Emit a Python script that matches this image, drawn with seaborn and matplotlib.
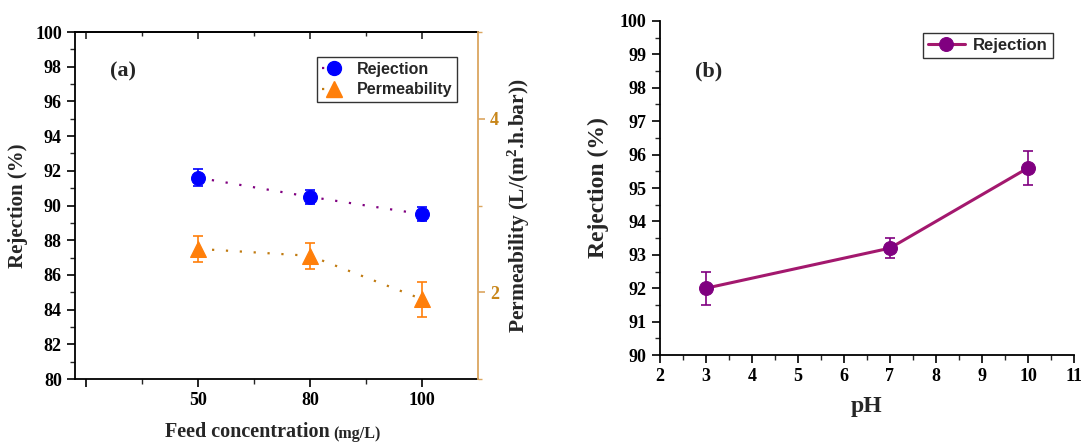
import numpy as np
import pandas as pd
import matplotlib
matplotlib.use("Agg")
import matplotlib.pyplot as plt
from matplotlib.ticker import MultipleLocator, FixedLocator
from matplotlib.lines import Line2D
import seaborn as sns

# ---- data -------------------------------------------------------------
feed_conc_labels = ["50", "80", "100"]          # mg/L
feed_positions = [1, 2, 3]
rejection_feed = [91.6, 90.5, 89.5]            # %
rejection_feed_err = [0.5, 0.4, 0.4]
permeability = [2.5, 2.42, 1.92]               # L/(m2.h.bar)
permeability_err = [0.15, 0.15, 0.2]

ph_values = [3, 7, 10]
rejection_ph = [92.0, 93.2, 95.6]              # %
rejection_ph_err = [0.5, 0.3, 0.5]

# ---- style ------------------------------------------------------------
sns.set_theme(style="ticks")
plt.rcParams["font.family"] = ["Liberation Serif", "DejaVu Serif"]
plt.rcParams["font.weight"] = "bold"
plt.rcParams["mathtext.fontset"] = "custom"
plt.rcParams["mathtext.rm"] = "Liberation Serif:bold"
plt.rcParams["mathtext.it"] = "Liberation Serif:bold"
plt.rcParams["mathtext.bf"] = "Liberation Serif:bold"

C_BLUE = "#0000FF"
C_ORANGE = "#FF7F0A"
C_PURPLE = "#800080"
C_PERM_LINE = "#C07A10"
C_AXIS2 = "#DBA660"
C_AXIS2_TXT = "#C8861A"
C_PH_LINE = "#A3186E"

fig = plt.figure(figsize=(10.81, 4.42), dpi=100)
ax1 = fig.add_axes([0.0694, 0.1425, 0.3728, 0.7851])
ax3 = fig.add_axes([0.6105, 0.1968, 0.3830, 0.7557])

dotted = (0, (1, 5.25))
DOT_LW = 1.6

# ---- panel (a): feed concentration -----------------------------------
df_a = pd.DataFrame({"pos": feed_positions,
                     "rej": rejection_feed,
                     "perm": permeability})

sns.lineplot(data=df_a, x="pos", y="rej", ax=ax1, color=C_PURPLE,
             linestyle=dotted, linewidth=DOT_LW, marker="o", markersize=10,
             markerfacecolor=C_BLUE, markeredgecolor=C_BLUE, zorder=3)
ax1.errorbar(feed_positions, rejection_feed, yerr=rejection_feed_err,
             fmt="none", ecolor=C_BLUE, elinewidth=1.2, capsize=3.5,
             capthick=1.2, zorder=2)

ax2 = ax1.twinx()
sns.lineplot(data=df_a, x="pos", y="perm", ax=ax2, color=C_PERM_LINE,
             linestyle=dotted, linewidth=DOT_LW, marker="^", markersize=11,
             markerfacecolor=C_ORANGE, markeredgecolor=C_ORANGE, zorder=3)
ax2.errorbar(feed_positions, permeability, yerr=permeability_err,
             fmt="none", ecolor=C_ORANGE, elinewidth=1.2, capsize=3.5,
             capthick=1.2, zorder=2)

ax1.set_xlim(-0.1, 3.5)
ax1.xaxis.set_major_locator(FixedLocator([0, 1, 2, 3]))
ax1.set_xticklabels([""] + feed_conc_labels)
ax1.xaxis.set_minor_locator(FixedLocator([0.5, 1.5, 2.5]))
ax1.set_ylim(80, 100)
ax1.yaxis.set_major_locator(MultipleLocator(2))
ax1.yaxis.set_minor_locator(MultipleLocator(1))

ax2.set_ylim(1, 5)
ax2.yaxis.set_major_locator(FixedLocator([2, 4]))
ax2.yaxis.set_minor_locator(FixedLocator([1, 3, 5]))

for sp in ax1.spines.values():
    sp.set_color("black")
    sp.set_linewidth(1.3)
ax1.spines["right"].set_visible(False)
for name in ["left", "top", "bottom"]:
    ax2.spines[name].set_visible(False)
ax2.spines["right"].set_color(C_AXIS2)
ax2.spines["right"].set_linewidth(1.3)

ax1.tick_params(axis="both", which="major", direction="out", length=6,
                width=1.2, labelsize=13, colors="black")
ax1.tick_params(axis="both", which="minor", direction="out", length=3.5,
                width=1.0)
ax2.tick_params(axis="y", which="major", direction="out", length=5,
                width=1.2, labelsize=13, colors=C_AXIS2, labelcolor=C_AXIS2_TXT)
ax2.tick_params(axis="y", which="minor", direction="out", length=3,
                width=1.0, colors=C_AXIS2)

# inward ticks along the top frame
top = ax1.secondary_xaxis("top")
top.xaxis.set_major_locator(FixedLocator([0, 1, 2, 3]))
top.xaxis.set_minor_locator(FixedLocator([0.5, 1.5, 2.5]))
top.tick_params(which="major", direction="in", length=5, width=1.2,
                labeltop=False)
top.tick_params(which="minor", direction="in", length=3, width=1.0)
top.spines["top"].set_linewidth(1.3)
top.set_xticklabels([])

for lab in ax1.get_xticklabels() + ax1.get_yticklabels() + ax2.get_yticklabels():
    lab.set_fontweight("bold")

ax1.set_xlabel("")
ax2.set_xlabel("")
ax1.set_ylabel("Rejection (%)", fontsize=15, fontweight="bold", labelpad=5)
fig.text(0.305, 0.0, "Feed concentration", fontsize=14.5, fontweight="bold",
         ha="right", va="bottom")
fig.text(0.308, 0.0, "(mg/L)", fontsize=11.5, fontweight="bold",
         ha="left", va="bottom")
ax2.set_ylabel("Permeability (L/(m$^{2}$.h.bar))", fontsize=15.5,
               fontweight="bold", labelpad=5)

ax1.text(0.087, 0.885, "(a)", transform=ax1.transAxes, fontsize=16,
         fontweight="bold", va="center", ha="left")

handles_a = [
    Line2D([0], [0], color=C_PURPLE, linestyle=dotted, linewidth=DOT_LW,
           marker="o", markersize=10, markerfacecolor=C_BLUE,
           markeredgecolor=C_BLUE),
    Line2D([0], [0], color=C_PERM_LINE, linestyle=dotted, linewidth=DOT_LW,
           marker="^", markersize=11, markerfacecolor=C_ORANGE,
           markeredgecolor=C_ORANGE),
]
for a in (ax1, ax2):
    lg = a.get_legend()
    if lg is not None:
        lg.remove()
leg_a = ax2.legend(handles_a, ["Rejection", "Permeability"],
                   loc="upper right", bbox_to_anchor=(0.948, 0.928),
                   borderaxespad=0, frameon=True, fancybox=False,
                   edgecolor="black", handlelength=1.5, handletextpad=0.7,
                   borderpad=0.3, labelspacing=0.35,
                   prop={"family": "Liberation Sans", "weight": "bold",
                         "size": 11.5})
leg_a.get_frame().set_linewidth(1.0)

# ---- panel (b): pH ---------------------------------------------------
df_b = pd.DataFrame({"pH": ph_values, "rej": rejection_ph})
sns.lineplot(data=df_b, x="pH", y="rej", ax=ax3, color=C_PH_LINE,
             linewidth=2.2, marker="o", markersize=10,
             markerfacecolor=C_PURPLE, markeredgecolor=C_PURPLE,
             label="Rejection", zorder=3)
ax3.errorbar(ph_values, rejection_ph, yerr=rejection_ph_err, fmt="none",
             ecolor=C_PURPLE, elinewidth=1.2, capsize=3.5, capthick=1.2,
             zorder=2)

ax3.set_xlim(2, 11)
ax3.xaxis.set_major_locator(MultipleLocator(1))
ax3.xaxis.set_minor_locator(MultipleLocator(0.5))
ax3.set_ylim(90, 100)
ax3.yaxis.set_major_locator(MultipleLocator(1))
ax3.yaxis.set_minor_locator(MultipleLocator(0.5))
ax3.spines["top"].set_visible(False)
ax3.spines["right"].set_visible(False)
for name in ["left", "bottom"]:
    ax3.spines[name].set_color("black")
    ax3.spines[name].set_linewidth(1.3)
ax3.tick_params(axis="both", which="major", direction="out", length=6,
                width=1.2, labelsize=13, colors="black")
ax3.tick_params(axis="both", which="minor", direction="out", length=3.5,
                width=1.0)
for lab in ax3.get_xticklabels() + ax3.get_yticklabels():
    lab.set_fontweight("bold")

ax3.set_xlabel("pH", fontsize=17, fontweight="bold", labelpad=8)
ax3.set_ylabel("Rejection (%)", fontsize=17, fontweight="bold", labelpad=8)
ax3.text(0.085, 0.85, "(b)", transform=ax3.transAxes, fontsize=16,
         fontweight="bold", va="center", ha="left")

leg_b = ax3.legend(loc="upper right", bbox_to_anchor=(0.949, 0.964),
                   borderaxespad=0, frameon=True, fancybox=False,
                   edgecolor="black", handlelength=2.2, handletextpad=0.5,
                   borderpad=0.3,
                   prop={"family": "Liberation Sans", "weight": "bold",
                         "size": 12})
leg_b.get_frame().set_linewidth(1.0)

fig.savefig("out.png", dpi=100)
